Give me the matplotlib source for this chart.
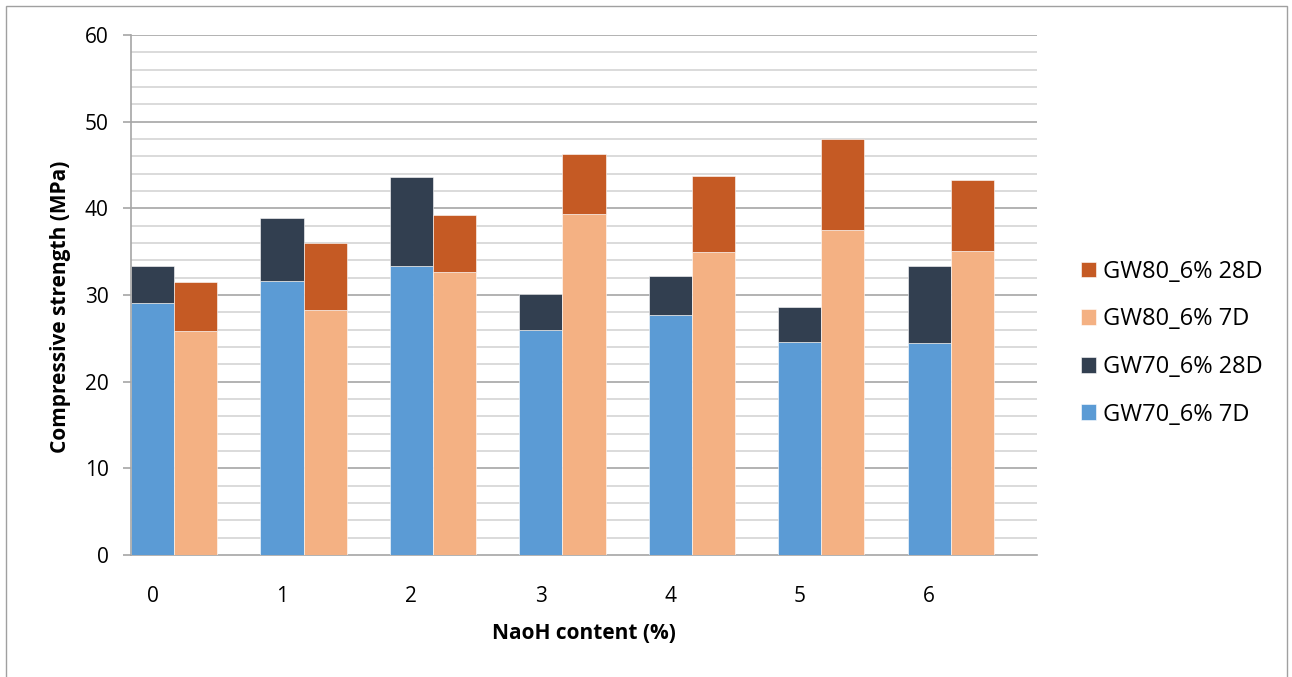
import numpy as np
import matplotlib.pyplot as plt
from matplotlib.patches import Rectangle

plt.rcParams['font.family'] = ['Open Sans', 'DejaVu Sans']

# NaOH content categories
categories = ["0", "1", "2", "3", "4", "5", "6"]

# compressive strength (MPa)
gw70_7d = [29.1, 31.6, 33.4, 26.0, 27.7, 24.6, 24.5]
gw70_28d = [33.3, 38.9, 43.6, 30.1, 32.2, 28.6, 33.3]
gw80_7d = [25.8, 28.3, 32.6, 39.4, 35.0, 37.5, 35.1]
gw80_28d = [31.5, 36.0, 39.2, 46.3, 43.7, 48.0, 43.3]

c_gw70_7d = "#5B9BD5"
c_gw70_28d = "#323F50"
c_gw80_7d = "#F4B183"
c_gw80_28d = "#C55A24"

fig = plt.figure(figsize=(12.92, 6.77), dpi=100)
ax = fig.add_axes([0.1014, 0.1802, 0.7012, 0.7681])

# outer frame
fig.patches.append(Rectangle((6 / 1292, -0.05), 1281 / 1292, 1 - 6 / 677 + 0.05,
                             transform=fig.transFigure, fill=False,
                             edgecolor="#A0A0A0", linewidth=1.0))

n = len(categories)
x = np.arange(n)
w = 1 / 3
x70 = x + w / 2
x80 = x + 1.5 * w

seg70 = np.array(gw70_28d) - np.array(gw70_7d)
seg80 = np.array(gw80_28d) - np.array(gw80_7d)

kw = dict(width=w, edgecolor="white", linewidth=0.4, zorder=3)
b1 = ax.bar(x70, gw70_7d, color=c_gw70_7d, **kw)
b2 = ax.bar(x70, seg70, bottom=gw70_7d, color=c_gw70_28d, **kw)
b3 = ax.bar(x80, gw80_7d, color=c_gw80_7d, **kw)
b4 = ax.bar(x80, seg80, bottom=gw80_7d, color=c_gw80_28d, **kw)

ax.set_xlim(0, n)
ax.set_ylim(0, 60)

# gridlines: every 2 MPa light, every 10 MPa darker
for v in np.arange(2, 61, 2):
    if v % 10 == 0:
        ax.axhline(v, color="#A6A6A6", linewidth=1.2, zorder=1)
    else:
        ax.axhline(v, color="#D4D4D4", linewidth=1.2, zorder=1)

ax.set_yticks(np.arange(0, 61, 10))
ax.set_xticks(x70)
ax.set_xticklabels(categories)
ax.tick_params(axis="y", length=6, width=1.2, color="#A6A6A6", labelsize=15, pad=10)
ax.tick_params(axis="x", length=0, labelsize=15, pad=22)

for s in ["top", "right"]:
    ax.spines[s].set_visible(False)
ax.spines["left"].set_color("#A6A6A6")
ax.spines["bottom"].set_color("#A6A6A6")
ax.spines["left"].set_linewidth(1.2)
ax.spines["bottom"].set_linewidth(1.2)
ax.spines["left"].set_zorder(4)

ax.set_xlabel("NaoH content (%)", fontsize=15, fontweight="bold", labelpad=12)
ax.set_ylabel("Compressive strength (MPa)", fontsize=15, fontweight="bold")
ax.yaxis.set_label_coords(-0.066, 0.477)

leg = fig.legend([b4, b3, b2, b1],
                 ["GW80_6% 28D", "GW80_6% 7D", "GW70_6% 28D", "GW70_6% 7D"],
                 loc="center left", bbox_to_anchor=(0.820, 0.493), frameon=False,
                 fontsize=17, handlelength=0.65, handleheight=0.65,
                 handletextpad=0.3, labelspacing=1.0)

fig.savefig("out.png", dpi=100)
